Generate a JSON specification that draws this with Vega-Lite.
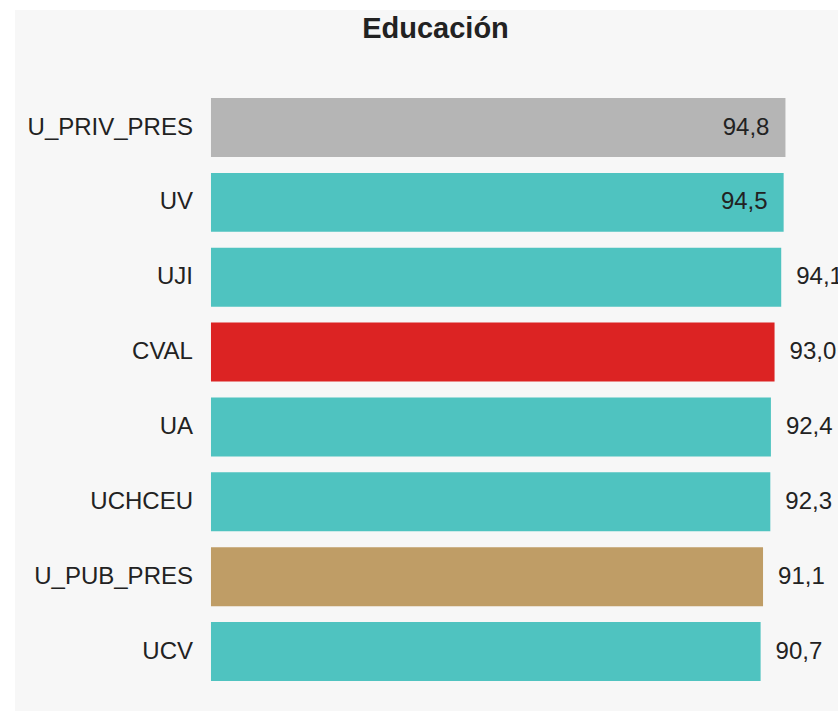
{
  "$schema": "https://vega.github.io/schema/vega-lite/v6.json",
  "width": 823,
  "height": 701,
  "autosize": {"type": "none"},
  "padding": {"left": 15, "top": 10, "right": 0, "bottom": 0},
  "background": "white",
  "config": {
    "view": {"fill": "#f7f7f7", "stroke": null},
    "font": "Liberation Sans",
    "locale": {"number": {"decimal": ",", "thousands": ".", "grouping": [3], "currency": ["", " €"]}}
  },
  "title": {"text": "Educación", "fontSize": 29, "fontWeight": "bold", "color": "#222222", "anchor": "middle", "dx": 9, "dy": 31, "offset": -26, "baseline": "alphabetic"},
  "data": {"values": [
    {"name": "U_PRIV_PRES", "value": 94.8, "group": "priv"},
    {"name": "UV", "value": 94.5, "group": "uni"},
    {"name": "UJI", "value": 94.1, "group": "uni"},
    {"name": "CVAL", "value": 93.0, "group": "cval"},
    {"name": "UA", "value": 92.4, "group": "uni"},
    {"name": "UCHCEU", "value": 92.3, "group": "uni"},
    {"name": "U_PUB_PRES", "value": 91.1, "group": "pub"},
    {"name": "UCV", "value": 90.7, "group": "uni"}
  ]},
  "encoding": {
    "y": {"field": "name", "type": "nominal", "sort": null,
      "scale": {"paddingInner": 0.212, "paddingOuter": 0.788, "align": 0.746},
      "axis": null}
  },
  "layer": [
    {
      "mark": {"type": "bar"},
      "encoding": {
        "x": {"field": "value", "type": "quantitative", "scale": {"domain": [-32.34, 103.47], "nice": false, "zero": false}, "axis": null},
        "x2": {"datum": 0},
        "color": {"field": "group", "type": "nominal", "legend": null,
          "scale": {"domain": ["priv", "uni", "cval", "pub"], "range": ["#b5b5b5", "#4fc3c0", "#dc2323", "#bf9d66"]}}
      }
    },
    {
      "mark": {"type": "text", "align": "right", "baseline": "middle", "dx": -18, "fontSize": 24, "color": "#222222"},
      "encoding": {"x": {"datum": 0}, "text": {"field": "name"}}
    },
    {
      "transform": [{"filter": "datum.value >= 94.5"}],
      "mark": {"type": "text", "align": "right", "baseline": "middle", "dx": -16, "fontSize": 24, "color": "#222222"},
      "encoding": {"x": {"field": "value", "type": "quantitative"}, "text": {"field": "value", "type": "quantitative", "format": ".1f"}}
    },
    {
      "transform": [{"filter": "datum.value < 94.5"}],
      "mark": {"type": "text", "align": "left", "baseline": "middle", "dx": 15, "fontSize": 24, "color": "#222222"},
      "encoding": {"x": {"field": "value", "type": "quantitative"}, "text": {"field": "value", "type": "quantitative", "format": ".1f"}}
    }
  ]
}
